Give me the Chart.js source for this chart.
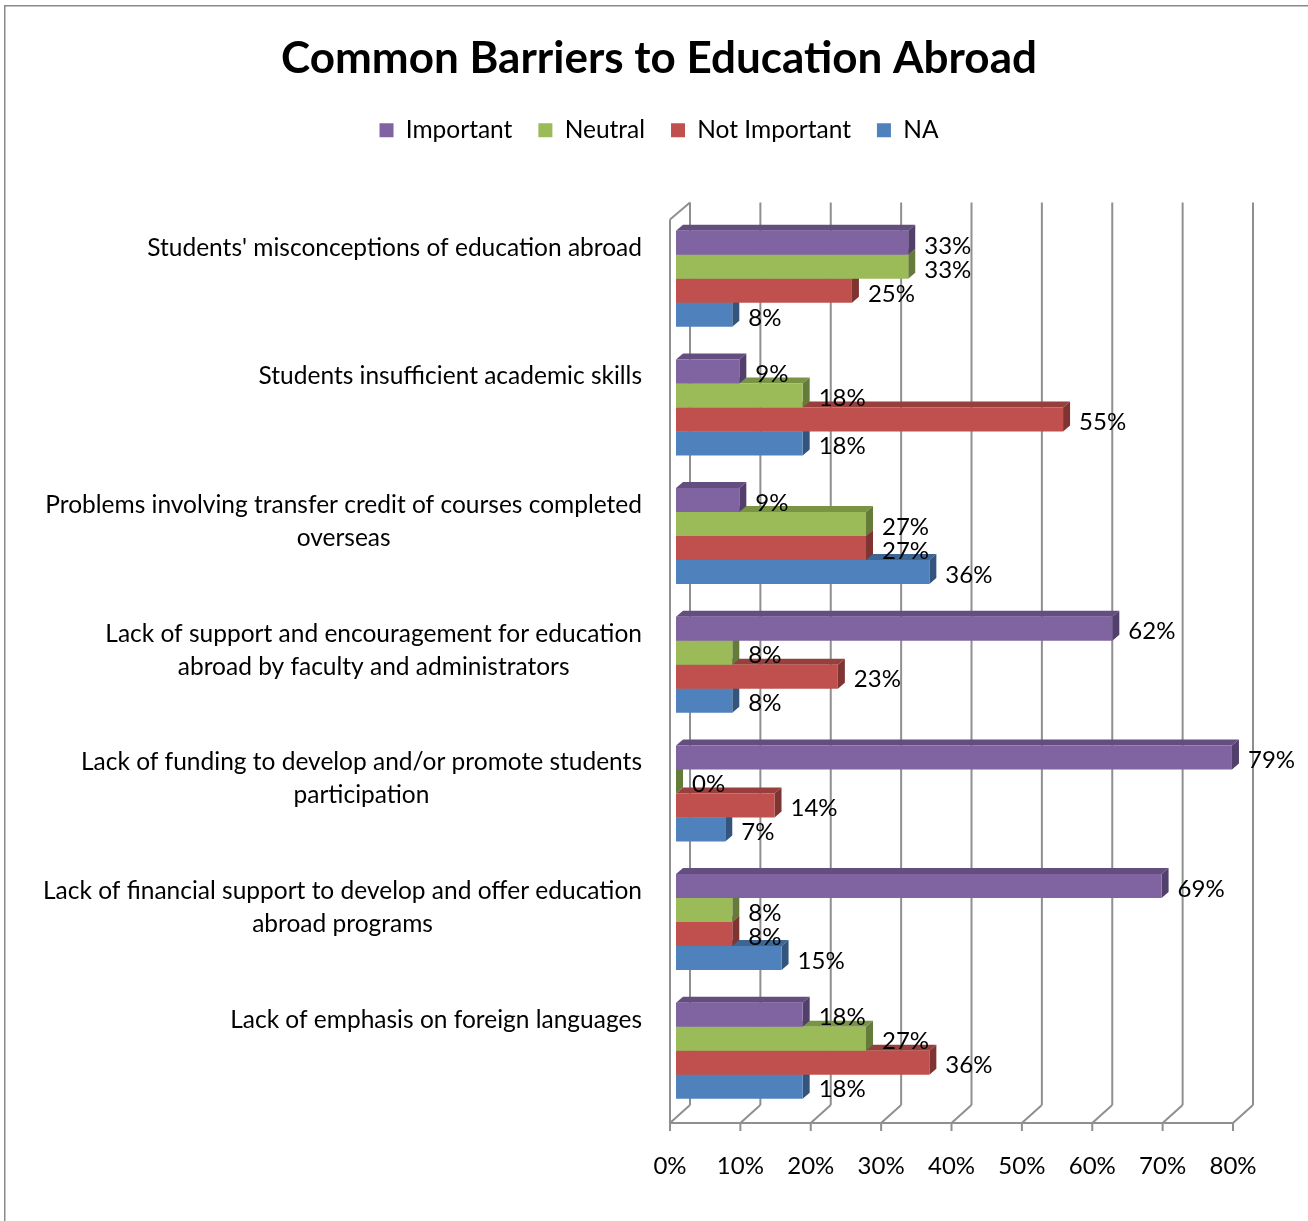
<!DOCTYPE html>
<html lang="en">
<head>
  <meta charset="UTF-8">
  <title>Common Barriers to Education Abroad</title>
  <style>
    html, body {
      margin: 0;
      padding: 0;
      background-color: #ffffff;
      overflow: hidden;
    }
    #chart-box {
      position: relative;
      width: 1308px;
      height: 1221px;
    }
  </style>
  <script src="https://cdn.jsdelivr.net/npm/chart.js"></script>
</head>
<body>
  <div id="chart-box">
    <canvas id="barriersChart"></canvas>
  </div>

  <script>
    // survey answers, in percent
    const categories = [
      ["Students' misconceptions of education abroad"],
      ['Students insufficient academic skills'],
      ['Problems involving transfer credit of courses completed', 'overseas'],
      ['Lack of support and encouragement for education', 'abroad by faculty and administrators'],
      ['Lack of funding to develop and/or promote students', 'participation'],
      ['Lack of financial support to develop and offer education', 'abroad programs'],
      ['Lack of emphasis on foreign languages']
    ];
    const important    = [33, 9, 9, 62, 79, 69, 18];
    const neutral      = [33, 18, 27, 8, 0, 8, 27];
    const notImportant = [25, 55, 27, 23, 14, 8, 36];
    const na           = [8, 18, 36, 8, 7, 15, 18];
    const axisMax = 80;
    const axisStep = 10;

    const FONT = 'Lato, "Noto Sans", sans-serif';
    const TEXT_SIZE = 24.5;

    // front, top and side face colours of the 3d bars
    const faceColors = [
      { front: '#8064a2', top: '#644e80', side: '#533f6b' },
      { front: '#9bbb59', top: '#7a9446', side: '#657b39' },
      { front: '#c0504d', top: '#983f3d', side: '#7f3432' },
      { front: '#4f81bd', top: '#3e6695', side: '#33547c' }
    ];

    // bar depth and wall offsets (pixels)
    const depth = { dx: 7, dy: -6 };
    const wall = { front: -6, back: 14, frontTop: 5, frontBottom: 8, backTop: -12, backBottom: -10 };

    function line(ctx, x1, y1, x2, y2) {
      ctx.beginPath();
      ctx.moveTo(x1, y1);
      ctx.lineTo(x2, y2);
      ctx.stroke();
    }

    // outer frame + walls / gridlines behind the bars
    const walls3d = {
      id: 'walls3d',
      beforeDraw(chart) {
        const ctx = chart.ctx;
        ctx.save();
        ctx.fillStyle = '#8a8a8a';
        ctx.fillRect(4, 5, chart.width - 4, 1.5);
        ctx.fillRect(4, 5, 1.5, chart.height - 5);
        ctx.restore();
      },
      beforeDatasetsDraw(chart) {
        const ctx = chart.ctx;
        const xs = chart.scales.x;
        const area = chart.chartArea;
        const fTop = area.top + wall.frontTop;
        const fBot = area.bottom + wall.frontBottom;
        const bTop = area.top + wall.backTop;
        const bBot = area.bottom + wall.backBottom;

        ctx.save();
        ctx.strokeStyle = '#8f8f8f';
        ctx.lineWidth = 2;
        xs.ticks.forEach(t => {
          const p = xs.getPixelForValue(t.value);
          line(ctx, p + wall.back, bTop, p + wall.back, bBot);
          line(ctx, p + wall.back, bBot, p + wall.front, fBot);
          line(ctx, p + wall.front, fBot, p + wall.front, fBot + 8);
        });
        const x0 = xs.getPixelForValue(0);
        const xEnd = xs.getPixelForValue(axisMax);
        line(ctx, x0 + wall.front, fBot, xEnd + wall.front, fBot);
        line(ctx, x0 + wall.front, fTop, x0 + wall.front, fBot);
        line(ctx, x0 + wall.front, fTop, x0 + wall.back, bTop);

        // tick labels on the front edge
        ctx.fillStyle = '#000';
        ctx.font = '24px ' + FONT;
        ctx.textAlign = 'center';
        ctx.textBaseline = 'middle';
        xs.ticks.forEach(t => {
          const p = xs.getPixelForValue(t.value);
          ctx.fillText(t.value + '%', p + wall.front, fBot + 43);
        });
        ctx.restore();
      },
      // top and side faces, drawn before each dataset's front faces
      beforeDatasetDraw(chart, args) {
        const ctx = chart.ctx;
        const colors = faceColors[args.index];
        ctx.save();
        args.meta.data.forEach(bar => {
          const { x, y, base, height } = bar.getProps(['x', 'y', 'base', 'height'], true);
          const top = y - height / 2;
          const bottom = y + height / 2;
          ctx.fillStyle = colors.top;
          ctx.beginPath();
          ctx.moveTo(base, top);
          ctx.lineTo(base + depth.dx, top + depth.dy);
          ctx.lineTo(x + depth.dx, top + depth.dy);
          ctx.lineTo(x, top);
          ctx.closePath();
          ctx.fill();
          ctx.fillStyle = colors.side;
          ctx.beginPath();
          ctx.moveTo(x, top);
          ctx.lineTo(x + depth.dx, top + depth.dy);
          ctx.lineTo(x + depth.dx, bottom + depth.dy);
          ctx.lineTo(x, bottom);
          ctx.closePath();
          ctx.fill();
        });
        ctx.restore();
      },
      afterDatasetsDraw(chart) {
        const ctx = chart.ctx;
        ctx.save();
        ctx.fillStyle = '#000';
        ctx.font = '24px ' + FONT;
        ctx.textBaseline = 'middle';

        // value labels
        ctx.textAlign = 'left';
        chart.data.datasets.forEach((ds, i) => {
          chart.getDatasetMeta(i).data.forEach((bar, j) => {
            ctx.fillText(ds.data[j] + '%', bar.x + depth.dx + 9, bar.y + 3);
          });
        });

        // category labels: right aligned block, lines centred inside it
        ctx.font = TEXT_SIZE + 'px ' + FONT;
        const ys = chart.scales.y;
        const right = 642;
        categories.forEach((lines, i) => {
          const yc = ys.getPixelForTick(i) - 31;
          const widths = lines.map(l => ctx.measureText(l).width);
          const blockW = Math.max(...widths);
          ctx.textAlign = 'center';
          lines.forEach((l, k) => {
            const cx = lines.length > 1 ? right - blockW / 2 : right - widths[k] / 2;
            ctx.fillText(l, cx, yc + k * 33);
          });
        });
        ctx.restore();
      }
    };

    const seriesNames = ['Important', 'Neutral', 'Not Important', 'NA'];
    const seriesData = [important, neutral, notImportant, na];

    const ctx = document.getElementById('barriersChart').getContext('2d');
    new Chart(ctx, {
      type: 'bar',
      data: {
        labels: categories,
        datasets: seriesNames.map((name, i) => ({
          label: name,
          data: seriesData[i],
          backgroundColor: faceColors[i].front,
          borderWidth: 0,
          barPercentage: 1,
          categoryPercentage: 0.746
        }))
      },
      options: {
        indexAxis: 'y',
        responsive: true,
        maintainAspectRatio: false,
        animation: false,
        layout: { padding: { left: 10 } },
        scales: {
          x: {
            min: 0,
            max: axisMax,
            ticks: { stepSize: axisStep, display: false },
            grid: { display: false },
            border: { display: false },
            afterFit(scale) { scale.height = 106; }
          },
          xTop: {
            type: 'linear',
            position: 'top',
            ticks: { display: false },
            grid: { display: false },
            border: { display: false },
            afterFit(scale) { scale.height = 62; }
          },
          y: {
            ticks: { display: false },
            grid: { display: false },
            border: { display: false },
            afterFit(scale) { scale.width = 666; }
          },
          yRight: {
            type: 'category',
            position: 'right',
            ticks: { display: false },
            grid: { display: false },
            border: { display: false },
            afterFit(scale) { scale.width = 69; }
          }
        },
        plugins: {
          title: {
            display: true,
            text: 'Common Barriers to Education Abroad',
            color: '#000',
            font: { family: FONT, size: 44, weight: 'bold' },
            padding: { top: 32.6, bottom: 6.6 }
          },
          legend: {
            display: true,
            position: 'top',
            labels: {
              boxWidth: 14,
              boxHeight: 14,
              padding: 26,
              color: '#000',
              font: { family: FONT, size: TEXT_SIZE }
            }
          },
          tooltip: { enabled: false }
        }
      },
      plugins: [walls3d]
    });
  </script>
</body>
</html>
